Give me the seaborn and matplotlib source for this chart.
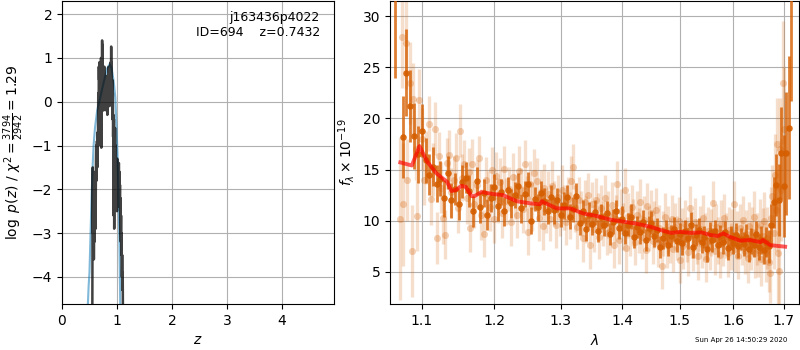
import numpy as np
import pandas as pd
import matplotlib
matplotlib.use("Agg")
import matplotlib.pyplot as plt
import seaborn as sns
from matplotlib.ticker import NullLocator, FixedLocator, FixedFormatter

# ---------------- data: p(z) panel ----------------
prior_z = [0.470, 0.485, 0.500, 0.520, 0.540, 0.560, 0.575, 0.600, 0.640, 0.700,
           0.760, 0.820, 0.866, 0.900, 0.930, 0.950, 0.970, 0.990, 1.010, 1.030,
           1.045, 1.060]
prior_logp = [-4.65, -4.2, -3.9, -3.0, -2.1, -1.4, -1.0, -0.6, -0.2, 0.12,
              0.45, 0.75, 0.86, 0.78, 0.55, 0.35, 0.1, -0.5, -1.2, -2.2,
              -3.2, -4.65]

pz_z = [0.552, 0.556, 0.560, 0.564, 0.568, 0.572, 0.576, 0.580, 0.585, 0.590,
        0.595, 0.600, 0.606, 0.612, 0.618, 0.624, 0.630, 0.636, 0.642, 0.648,
        0.654, 0.660, 0.665, 0.670, 0.675, 0.680, 0.685, 0.690, 0.695, 0.700,
        0.705, 0.710, 0.715, 0.720, 0.725, 0.730, 0.735, 0.740, 0.745, 0.750,
        0.755, 0.760, 0.765, 0.770, 0.775, 0.780, 0.785, 0.790, 0.795, 0.800,
        0.805, 0.810, 0.815, 0.820, 0.825, 0.830, 0.835, 0.840, 0.845, 0.850,
        0.855, 0.860, 0.865, 0.870, 0.875, 0.880, 0.885, 0.890, 0.895, 0.900,
        0.905, 0.910, 0.915, 0.920, 0.925, 0.930, 0.935, 0.940, 0.945, 0.950,
        0.955, 0.960, 0.965, 0.970, 0.975, 0.980, 0.985, 0.990, 0.995, 1.000,
        1.005, 1.010, 1.015, 1.020, 1.025, 1.030, 1.035, 1.040, 1.045, 1.050,
        1.055, 1.060, 1.065, 1.070, 1.075, 1.080, 1.085, 1.090, 1.095, 1.100,
        1.105, 1.110]
pz_logp = [-4.8, -2.6, -1.5, -3.0, -2.0, -2.9, -1.6, -3.6, -2.1, -3.2,
           -2.0, -2.6, -1.9, -2.9, -1.3, -1.0, -1.8, -0.9, -1.5, -0.7,
           -0.9, 0.2, -1.0, 0.8, 0.5, 0.9, 0.1, 0.6, -0.1, 0.7,
           0.3, 1.0, -1.05, 0.9, 0.2, 1.4, 0.3, 1.3, 0.0, 0.7,
           -0.2, 0.6, 0.1, 0.8, 0.2, 0.5, -0.1, 0.6, 0.1, 0.4,
           -0.2, 0.5, 0.0, 0.3, -0.3, 0.4, 0.0, 0.6, 0.1, 0.8,
           0.2, 0.5, -0.1, 0.3, 0.7, 0.2, 0.9, 0.4, 1.26, 0.4,
           0.9, 0.0, 0.5, -0.4, 0.2, -0.8, -0.3, -2.6, -0.4, -2.9,
           -1.2, -2.0, -0.6, -2.3, -1.0, -2.4, -1.4, -2.2, -1.6, -2.5,
           -1.3, -2.1, -1.6, -2.4, -1.5, -2.3, -1.4, -2.2, -1.6, -2.4,
           -1.9, -3.0, -2.2, -3.2, -2.6, -3.5, -3.0, -4.0, -3.5, -4.3,
           -3.9, -5.0]

# ---------------- data: spectrum panel ----------------
model_wave = [1.072, 1.087, 1.097, 1.107, 1.120, 1.134, 1.140, 1.146, 1.154, 1.160,
              1.168, 1.172, 1.182, 1.199, 1.213, 1.233, 1.253, 1.268, 1.271, 1.275,
              1.294, 1.315, 1.336, 1.358, 1.380, 1.402, 1.425, 1.448, 1.471, 1.485,
              1.501, 1.520, 1.540, 1.556, 1.570, 1.581, 1.594, 1.613, 1.633, 1.653,
              1.658, 1.673, 1.703]
model_flux = [15.7, 15.4, 17.3, 15.8, 14.6, 13.8, 12.9, 13.0, 13.4, 13.3,
              12.4, 12.4, 12.8, 12.6, 12.5, 11.9, 11.7, 11.6, 11.9, 11.75,
              11.2, 11.2, 10.7, 10.45, 10.1, 9.9, 9.7, 9.4, 9.0, 8.8,
              8.9, 8.8, 8.85, 8.6, 8.5, 8.75, 8.4, 8.05, 8.1, 7.9,
              8.1, 7.6, 7.45]

dark_wave = [1.065, 1.075, 1.080, 1.085, 1.090, 1.095, 1.100, 1.105, 1.110, 1.115,
             1.120, 1.125, 1.130, 1.135, 1.140, 1.145, 1.150, 1.155, 1.160, 1.165,
             1.170, 1.175, 1.180, 1.185, 1.190, 1.195, 1.200, 1.205, 1.210, 1.215,
             1.220, 1.225, 1.230, 1.235, 1.240, 1.245, 1.250, 1.255, 1.260, 1.265,
             1.270, 1.275, 1.280, 1.285, 1.290, 1.295, 1.300, 1.305, 1.310, 1.315,
             1.320, 1.325, 1.330, 1.335, 1.340, 1.345, 1.350, 1.355, 1.360, 1.365,
             1.370, 1.375, 1.380, 1.385, 1.390, 1.395, 1.400, 1.405, 1.410, 1.415,
             1.420, 1.425, 1.430, 1.435, 1.440, 1.445, 1.450, 1.455, 1.460, 1.465,
             1.470, 1.475, 1.480, 1.485, 1.490, 1.495, 1.500, 1.505, 1.510, 1.515,
             1.520, 1.525, 1.530, 1.535, 1.540, 1.545, 1.550, 1.555, 1.560, 1.565,
             1.570, 1.575, 1.580, 1.585, 1.590, 1.595, 1.600, 1.605, 1.610, 1.615,
             1.620, 1.625, 1.630, 1.635, 1.640, 1.645, 1.650, 1.655, 1.660, 1.665,
             1.670, 1.675, 1.680, 1.685, 1.690, 1.695, 1.700, 1.705, 1.710, 1.715]
dark_flux = [36.0, 18.2, 24.5, 21.2, 18.3, 16.5, 18.8, 15.9, 14.5, 15.3,
             13.6, 14.1, 12.2, 14.7, 12.0, 13.1, 11.6, 13.8, 14.2, 12.9,
             10.9, 13.9, 11.3, 12.7, 10.6, 12.2, 13.3, 11.4, 12.8, 10.9,
             13.0, 11.7, 12.5, 13.4, 11.2, 12.6, 13.6, 10.0, 12.1, 11.3,
             12.7, 11.9, 10.9, 12.3, 11.0, 12.0, 10.6, 11.5, 12.3, 10.4,
             11.1, 12.4, 9.8, 10.9, 9.2, 10.6, 9.7, 10.8, 9.0, 10.4,
             9.6, 10.7, 8.7, 9.9, 10.9, 9.3, 10.2, 8.8, 9.6, 10.4,
             8.4, 9.4, 8.9, 9.9, 8.1, 9.3, 9.8, 8.5, 9.1, 7.4,
             8.3, 8.9, 7.6, 8.5, 9.2, 8.0, 8.7, 7.8, 9.0, 8.3,
             9.6, 7.4, 8.6, 9.1, 7.9, 8.4, 7.2, 8.8, 8.1, 9.0,
             7.6, 8.5, 7.9, 8.9, 7.3, 8.3, 7.8, 8.6, 7.5, 8.2,
             7.7, 8.4, 7.2, 8.0, 7.6, 8.7, 7.4, 8.1, 7.1, 7.9,
             7.5, 9.6, 11.8, 13.5, 12.0, 16.6, 13.4, 16.6, 19.1, 33.0]
dark_err = [12.0, 4.0, 4.3, 3.5, 3.2, 2.8, 2.6, 2.2, 2.0, 1.9,
            1.8, 1.7, 1.8, 1.6, 1.7, 1.6, 1.5, 1.6, 1.5, 1.6,
            1.5, 1.4, 1.5, 1.4, 1.5, 1.4, 1.3, 1.4, 1.3, 1.4,
            1.3, 1.4, 1.3, 1.3, 1.4, 1.3, 1.2, 1.3, 1.2, 1.3,
            1.2, 1.3, 1.2, 1.2, 1.3, 1.2, 1.2, 1.3, 1.2, 1.2,
            1.2, 1.3, 1.2, 1.1, 1.2, 1.2, 1.1, 1.2, 1.1, 1.2,
            1.1, 1.2, 1.1, 1.2, 1.1, 1.1, 1.2, 1.1, 1.1, 1.2,
            1.1, 1.1, 1.2, 1.1, 1.1, 1.2, 1.1, 1.1, 1.2, 1.1,
            1.1, 1.2, 1.1, 1.1, 1.2, 1.1, 1.1, 1.2, 1.1, 1.1,
            1.2, 1.1, 1.1, 1.2, 1.1, 1.1, 1.2, 1.1, 1.2, 1.1,
            1.2, 1.1, 1.2, 1.1, 1.2, 1.2, 1.1, 1.2, 1.2, 1.1,
            1.2, 1.3, 1.2, 1.3, 1.2, 1.3, 1.3, 1.4, 1.3, 1.5,
            1.6, 2.0, 2.5, 3.0, 3.5, 4.5, 5.0, 6.0, 7.0, 11.3]

light_wave = [1.071, 1.074, 1.076, 1.079, 1.081, 1.084, 1.087, 1.089, 1.092, 1.094,
              1.097, 1.100, 1.103, 1.106, 1.109, 1.112, 1.115, 1.118, 1.120, 1.123,
              1.126, 1.129, 1.131, 1.134, 1.137, 1.140, 1.143, 1.146, 1.149, 1.152,
              1.155, 1.158, 1.161, 1.164, 1.166, 1.169, 1.172, 1.175, 1.178, 1.181,
              1.185, 1.188, 1.191, 1.194, 1.197, 1.200, 1.203, 1.206, 1.209, 1.212,
              1.215, 1.218, 1.221, 1.224, 1.227, 1.230, 1.233, 1.236, 1.239, 1.242,
              1.245, 1.248, 1.250, 1.253, 1.256, 1.259, 1.263, 1.266, 1.269, 1.272,
              1.275, 1.278, 1.281, 1.284, 1.287, 1.290, 1.293, 1.296, 1.299, 1.302,
              1.305, 1.308, 1.311, 1.314, 1.317, 1.320, 1.323, 1.326, 1.329, 1.332,
              1.335, 1.338, 1.341, 1.344, 1.347, 1.350, 1.353, 1.356, 1.359, 1.362,
              1.365, 1.368, 1.371, 1.374, 1.377, 1.380, 1.383, 1.386, 1.389, 1.392,
              1.395, 1.398, 1.401, 1.404, 1.407, 1.410, 1.413, 1.416, 1.419, 1.422,
              1.425, 1.428, 1.431, 1.434, 1.437, 1.440, 1.443, 1.446, 1.449, 1.452,
              1.455, 1.458, 1.461, 1.464, 1.468, 1.471, 1.474, 1.477, 1.480, 1.483,
              1.486, 1.489, 1.492, 1.495, 1.498, 1.501, 1.504, 1.507, 1.510, 1.513,
              1.516, 1.519, 1.522, 1.525, 1.528, 1.531, 1.534, 1.537, 1.540, 1.543,
              1.546, 1.549, 1.552, 1.555, 1.558, 1.562, 1.565, 1.568, 1.571, 1.574,
              1.577, 1.580, 1.583, 1.586, 1.589, 1.592, 1.595, 1.598, 1.601, 1.604,
              1.607, 1.610, 1.613, 1.616, 1.619, 1.622, 1.625, 1.628, 1.631, 1.634,
              1.637, 1.640, 1.643, 1.646, 1.649, 1.652, 1.655, 1.658, 1.661, 1.664,
              1.667, 1.670, 1.672, 1.675, 1.677, 1.680, 1.682, 1.684, 1.686, 1.688,
              1.690, 1.692, 1.695, 1.698, 1.700]
light_flux = [10.2, 28.0, 11.6, 27.4, 14.0, 23.5, 7.0, 21.9, 17.0, 10.5,
              21.8, 18.0, 14.0, 16.2, 19.5, 12.1, 15.0, 19.0, 8.3, 16.3,
              13.2, 10.3, 8.6, 15.6, 16.4, 12.8, 14.0, 16.1, 11.2, 18.8,
              14.2, 15.5, 12.2, 14.8, 9.3, 15.5, 11.6, 13.5, 16.1, 10.6,
              8.7, 14.0, 12.5, 11.3, 15.0, 10.2, 14.4, 12.0, 13.8, 10.7,
              15.1, 11.9, 13.1, 9.9, 14.3, 12.4, 10.6, 14.9, 13.0, 11.1,
              15.5, 12.2, 8.9, 13.6, 11.4, 14.7, 13.9, 10.3, 12.8, 9.5,
              13.2, 11.0, 12.6, 10.2, 13.4, 11.7, 9.6, 12.3, 10.8, 13.0,
              11.3, 9.9, 12.1, 10.5, 13.9, 15.3, 11.2, 9.4, 12.0, 10.7,
              8.3, 11.8, 10.1, 12.5, 7.6, 11.6, 9.2, 12.0, 10.4, 8.4,
              11.2, 9.7, 12.2, 8.8, 10.6, 9.0, 11.5, 7.6, 10.2, 13.6,
              8.1, 10.9, 9.4, 13.0, 7.3, 10.5, 8.8, 11.3, 9.8, 7.9,
              10.6, 9.0, 11.8, 8.4, 10.1, 7.1, 11.4, 9.2, 10.7, 8.0,
              9.6, 11.0, 7.8, 9.3, 5.6, 8.7, 10.4, 7.6, 9.1, 8.1,
              10.2, 7.2, 9.4, 8.3, 10.0, 6.1, 8.9, 7.5, 9.7, 8.2,
              6.9, 11.2, 8.6, 7.3, 9.9, 8.0, 6.5, 9.2, 7.7, 10.3,
              8.4, 6.2, 9.0, 7.4, 8.8, 11.7, 7.0, 9.4, 8.1, 6.6,
              9.7, 7.8, 10.3, 8.5, 6.8, 9.1, 7.5, 8.9, 11.6, 7.2,
              8.6, 6.5, 9.3, 7.9, 10.1, 7.0, 8.7, 6.3, 9.5, 7.6,
              8.9, 10.4, 6.8, 8.2, 7.1, 9.6, 6.2, 8.5, 10.0, 6.9,
              8.3, 6.0, 4.9, 10.3, 12.4, 8.8, 14.5, 11.0, 17.5, 6.8,
              5.1, 17.0, 13.0, 23.5, 19.0]
light_err = [8.0, 5.0, 6.0, 4.5, 4.0, 4.0, 4.5, 3.5, 3.0, 3.5,
             3.0, 3.0, 2.5, 2.6, 2.7, 2.5, 2.6, 2.6, 2.5, 2.4,
             2.5, 2.6, 2.4, 2.5, 2.5, 2.4, 2.3, 2.5, 2.4, 2.6,
             2.3, 2.4, 2.5, 2.3, 2.4, 2.5, 2.3, 2.4, 2.2, 2.5,
             2.3, 2.2, 2.4, 2.3, 2.2, 2.4, 2.3, 2.2, 2.3, 2.4,
             2.2, 2.3, 2.2, 2.4, 2.3, 2.2, 2.3, 2.4, 2.2, 2.3,
             2.4, 2.2, 2.3, 2.2, 2.4, 2.3, 2.2, 2.3, 2.2, 2.4,
             2.3, 2.2, 2.3, 2.2, 2.4, 2.2, 2.3, 2.2, 2.3, 2.4,
             2.2, 2.3, 2.2, 2.3, 2.4, 2.2, 2.3, 2.2, 2.3, 2.2,
             2.3, 2.2, 2.3, 2.2, 2.3, 2.2, 2.3, 2.2, 2.3, 2.2,
             2.3, 2.2, 2.3, 2.2, 2.3, 2.2, 2.3, 2.2, 2.3, 2.2,
             2.3, 2.2, 2.3, 2.2, 2.3, 2.2, 2.3, 2.2, 2.3, 2.2,
             2.3, 2.2, 2.3, 2.2, 2.3, 2.2, 2.3, 2.2, 2.3, 2.2,
             2.3, 2.2, 2.3, 2.2, 2.3, 2.2, 2.3, 2.2, 2.3, 2.2,
             2.3, 2.2, 2.3, 2.2, 2.3, 2.2, 2.3, 2.2, 2.3, 2.2,
             2.3, 2.2, 2.3, 2.2, 2.3, 2.2, 2.3, 2.2, 2.3, 2.2,
             2.3, 2.2, 2.3, 2.2, 2.3, 2.2, 2.3, 2.2, 2.3, 2.2,
             2.3, 2.2, 2.3, 2.2, 2.3, 2.2, 2.3, 2.2, 2.3, 2.2,
             2.3, 2.2, 2.3, 2.2, 2.3, 2.2, 2.3, 2.4, 2.3, 2.4,
             2.4, 2.5, 2.4, 2.5, 2.6, 2.5, 2.6, 2.7, 2.8, 2.9,
             3.0, 3.0, 3.0, 3.0, 3.0, 3.5, 4.0, 4.0, 4.5, 5.0,
             5.0, 5.0, 5.0, 6.0, 6.0]

title_lines = "j163436p4022\nID=694    z=0.7432"
z_ticks = [0, 1, 2, 3, 4]
logp_ticks = [-4, -3, -2, -1, 0, 1, 2]
wave_ticks = [1.1, 1.2, 1.3, 1.4, 1.5, 1.6, 1.7]
wave_labels = ["1.1", "1.2", "1.3", "1.4", "1.5", "1.6", "1.7"]
flux_ticks = [5, 10, 15, 20, 25, 30]
timestamp = "Sun Apr 26 14:50:29 2020"

# ---------------- figure ----------------
G141 = "#d55e00"
fig = plt.figure(figsize=(8, 3.5), dpi=100)
ax1 = fig.add_axes([0.0775, 0.1314, 0.34, 0.8657])
ax2 = fig.add_axes([0.4875, 0.1314, 0.51125, 0.8657])

# left panel
sns.lineplot(x=prior_z, y=prior_logp, ax=ax1, color="#0072b2", alpha=0.5,
             lw=1.5, sort=False, estimator=None)
sns.lineplot(x=pz_z, y=pz_logp, ax=ax1, color="k", alpha=0.75,
             lw=1.8, sort=False, estimator=None)
ax1.set_xlim(0, 4.95)
ax1.set_ylim(-4.62, 2.3)
ax1.set_xticks(z_ticks)
ax1.set_yticks(logp_ticks)
ax1.grid(True)
ax1.set_axisbelow(True)
ax1.set_xlabel(r"$z$")
ax1.set_ylabel(r"$\log\ p(z)$ / $\chi^2=\frac{3794}{2942}=1.29$")
ax1.text(0.948, 0.968, title_lines, ha="right", va="top",
         transform=ax1.transAxes, fontsize=9)

# right panel
ax2.set_xscale("log")
ax2.errorbar(light_wave, light_flux, yerr=light_err, fmt="none",
             ecolor=G141, alpha=0.2, elinewidth=2.4, zorder=1)
sns.scatterplot(x=light_wave, y=light_flux, ax=ax2, color=G141, alpha=0.28,
                s=26, linewidth=0, zorder=2)
ax2.errorbar(dark_wave, dark_flux, yerr=dark_err, fmt="none",
             ecolor=G141, alpha=0.8, elinewidth=2, zorder=3)
sns.scatterplot(x=dark_wave, y=dark_flux, ax=ax2, color=G141, alpha=0.9,
                s=22, linewidth=0, zorder=4)
sns.lineplot(x=model_wave, y=model_flux, ax=ax2, color="red", alpha=0.65,
             lw=2.8, sort=False, estimator=None, zorder=5)

ax2.set_xlim(1.0588, 1.7316)
ax2.set_ylim(1.84, 31.5)
ax2.xaxis.set_major_locator(FixedLocator(wave_ticks))
ax2.xaxis.set_major_formatter(FixedFormatter(wave_labels))
ax2.xaxis.set_minor_locator(NullLocator())
ax2.set_yticks(flux_ticks)
ax2.grid(True)
ax2.set_axisbelow(True)
ax2.set_xlabel(r"$\lambda$")
ax2.set_ylabel(r"$f_\lambda\times10^{-19}$")

fig.text(0.9846, 0.02, timestamp, ha="right", va="bottom", fontsize=5)

fig.savefig("out.png", dpi=100)
